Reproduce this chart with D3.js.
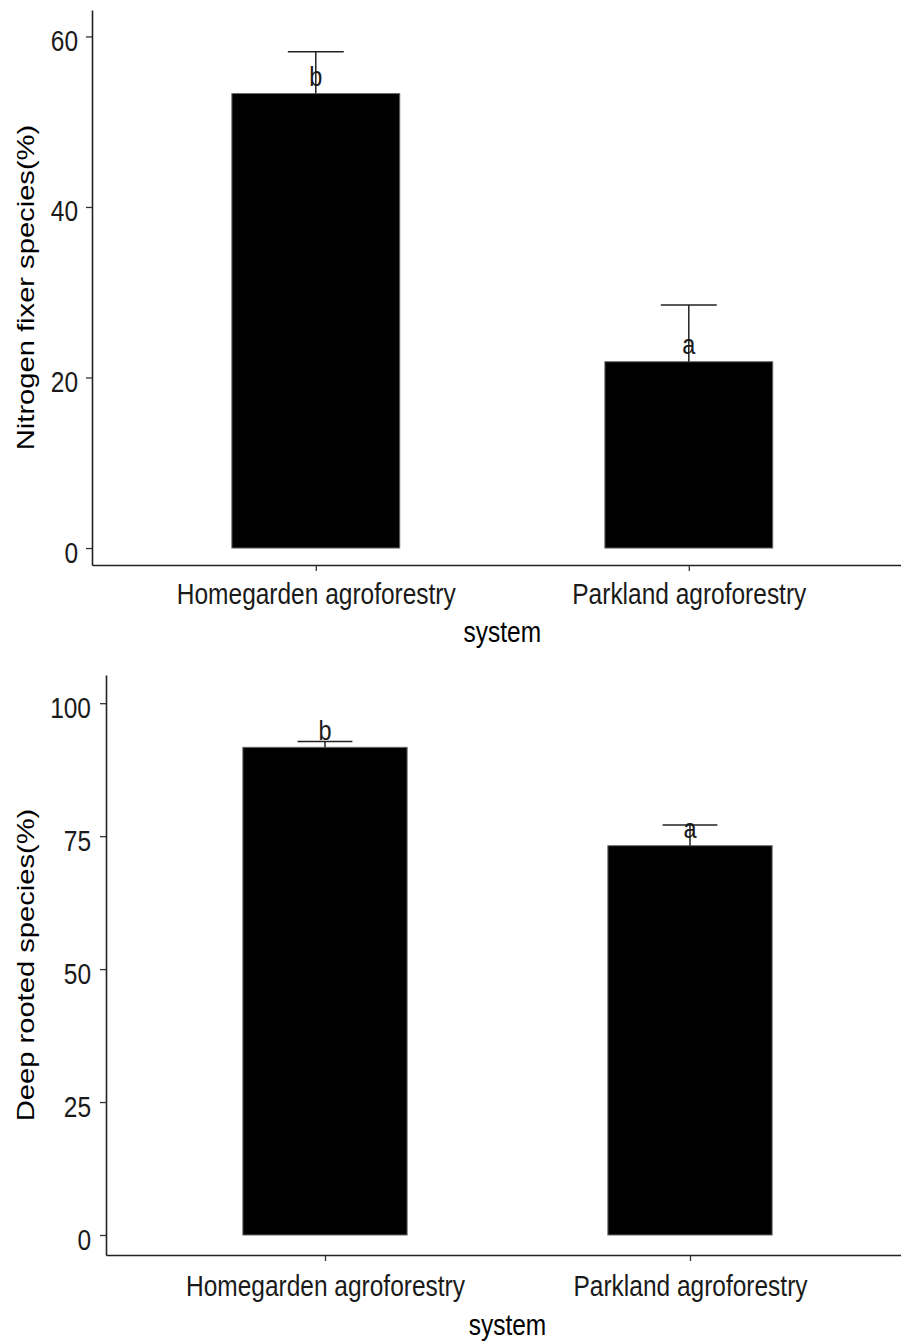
<!DOCTYPE html>
<html>
<head>
<meta charset="utf-8">
<script src="https://cdn.jsdelivr.net/npm/d3@7"></script>
<style>
  body { margin: 0; background: #fff; }
  text { font-family: "Liberation Sans", Arial, sans-serif; }
</style>
</head>
<body>
<div id="chart"></div>
<script>
const categories = ['Homegarden agroforestry', 'Parkland agroforestry'];

const nitrogenMean = [53.3, 21.85];
const nitrogenErr = [4.9, 6.65];
const nitrogenLetters = ['b', 'a'];
const nitrogenTicks = [0, 20, 40, 60];
const nitrogenLimits = [-1.99, 63.1];

const deepMean = [91.7, 73.2];
const deepErr = [1.1, 3.9];
const deepLetters = ['b', 'a'];
const deepTicks = [0, 25, 50, 75, 100];
const deepLimits = [-3.76, 105.3];

const largura = 901, altura = 1342;
const SY = 1.19;   // the picture is stretched vertically
const FS = 24.5;

const svg = d3.select('#chart')
    .append('svg')
    .attr('width', largura)
    .attr('height', altura);

const painel = (o) => {
    const x = d3.scaleLinear().domain([0.4, 2.6]).range([o.left, o.right]);
    const y = d3.scaleLinear().domain(o.limits).range([o.bottom, o.top]);
    const unit = x(2) - x(1);
    const linhas = o.mean.map((m, i) => ({ cat: i + 1, mean: m, err: o.err[i], letter: o.letters[i] }));

    const g = svg.append('g');

    // barras
    g.selectAll('rect.bar')
        .data(linhas)
        .enter()
        .append('rect')
        .attr('class', 'bar')
        .attr('x', d => x(d.cat) - 0.225 * unit)
        .attr('width', 0.45 * unit)
        .attr('y', d => y(d.mean))
        .attr('height', d => y(0) - y(d.mean))
        .attr('fill', '#000')
        .attr('stroke', '#666')
        .attr('stroke-width', 1);

    // barras de erro
    g.selectAll('line.err')
        .data(linhas)
        .enter()
        .append('line')
        .attr('class', 'err')
        .attr('x1', d => x(d.cat))
        .attr('x2', d => x(d.cat))
        .attr('y1', d => y(d.mean))
        .attr('y2', d => y(d.mean + d.err))
        .attr('stroke', '#222')
        .attr('stroke-width', 1.5);

    g.selectAll('line.whisker')
        .data(linhas)
        .enter()
        .append('line')
        .attr('class', 'whisker')
        .attr('x1', d => x(d.cat) - 0.075 * unit)
        .attr('x2', d => x(d.cat) + 0.075 * unit)
        .attr('y1', d => y(d.mean + d.err))
        .attr('y2', d => y(d.mean + d.err))
        .attr('stroke', '#222')
        .attr('stroke-width', 1.5);

    // letras
    g.selectAll('text.letter')
        .data(linhas)
        .enter()
        .append('text')
        .attr('class', 'letter')
        .attr('transform', d => `translate(${x(d.cat)},${y(d.mean) - 7.5}) scale(1,${SY})`)
        .attr('text-anchor', 'middle')
        .attr('font-size', 23.5)
        .attr('fill', '#1a1a1a')
        .text(d => d.letter);

    // eixo y
    const gy = svg.append('g')
        .attr('transform', `translate(${o.left},0)`)
        .call(d3.axisLeft(y).tickValues(o.ticks).tickSize(6).tickSizeOuter(0));
    gy.select('.domain').attr('stroke', '#222').attr('stroke-width', 1.6);
    gy.selectAll('.tick line').attr('stroke', '#333').attr('stroke-width', 1.3);
    gy.selectAll('.tick text')
        .attr('x', -(o.left - o.tickRight))
        .attr('y', 14 / SY)
        .attr('dy', null)
        .attr('transform', `scale(1,${SY})`)
        .attr('font-size', FS)
        .attr('fill', '#1a1a1a');

    // eixo x
    const gx = svg.append('g')
        .attr('transform', `translate(0,${o.bottom})`)
        .call(d3.axisBottom(x).tickValues([1, 2]).tickFormat(i => categories[i - 1]).tickSize(6).tickSizeOuter(0));
    gx.select('.domain').attr('stroke', '#222').attr('stroke-width', 1.6);
    gx.selectAll('.tick line').attr('stroke', '#333').attr('stroke-width', 1.3);
    gx.selectAll('.tick text')
        .attr('y', o.xLabelOff / SY)
        .attr('dy', null)
        .attr('transform', `scale(1,${SY})`)
        .attr('font-size', FS)
        .attr('fill', '#1a1a1a');

    // títulos
    svg.append('text')
        .attr('transform', `translate(${(o.left + o.right) / 2},${o.sysBase}) scale(1,${SY})`)
        .attr('text-anchor', 'middle')
        .attr('font-size', FS)
        .attr('fill', '#000')
        .text('system');

    svg.append('text')
        .attr('transform', `translate(33.5,${(o.top + o.bottom) / 2}) rotate(-90) scale(${SY},1)`)
        .attr('text-anchor', 'middle')
        .attr('font-size', FS)
        .attr('fill', '#000')
        .text(o.title);
};

painel({
    mean: nitrogenMean, err: nitrogenErr, letters: nitrogenLetters,
    ticks: nitrogenTicks, limits: nitrogenLimits,
    title: 'Nitrogen fixer species(%)',
    left: 92, right: 912.6, top: 10, bottom: 565,
    tickRight: 78, xLabelOff: 39, sysBase: 642
});

painel({
    mean: deepMean, err: deepErr, letters: deepLetters,
    ticks: deepTicks, limits: deepLimits,
    title: 'Deep rooted species(%)',
    left: 106, right: 909, top: 675, bottom: 1255,
    tickRight: 91, xLabelOff: 41, sysBase: 1335
});
</script>
</body>
</html>
